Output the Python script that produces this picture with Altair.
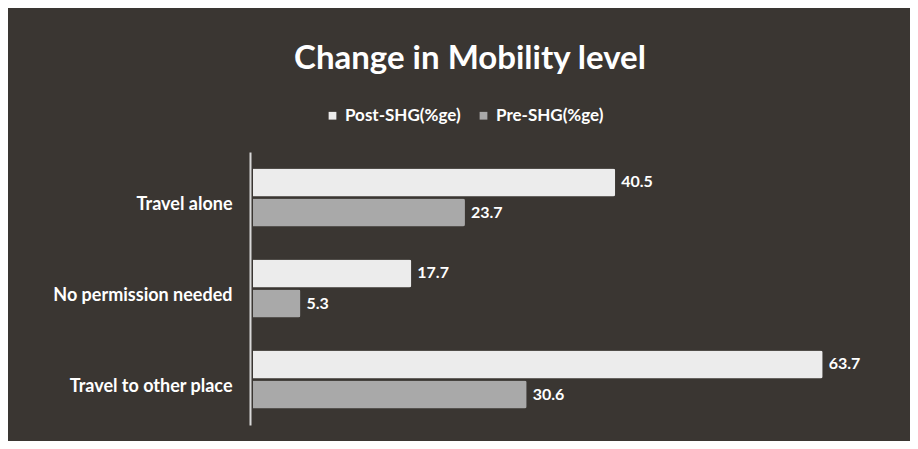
import altair as alt
import pandas as pd

categories = ["Travel alone", "No permission needed", "Travel to other place"]
series = ["Post-SHG(%ge)", "Pre-SHG(%ge)"]
post_values = [40.5, 17.7, 63.7]
pre_values = [23.7, 5.3, 30.6]

rows = []
for c, a, b in zip(categories, post_values, pre_values):
    rows.append({"cat": c, "series": series[0], "value": a})
    rows.append({"cat": c, "series": series[1], "value": b})
df = pd.DataFrame(rows)

FONT = "Lato"
BG = "#3a3632"

y_enc = alt.Y("cat:N", sort=categories, title=None,
              scale=alt.Scale(paddingInner=0.36, paddingOuter=0.18),
              axis=alt.Axis(labelColor="white", labelFont=FONT, labelFontSize=18,
                            labelFontWeight="bold", labelPadding=18, labelOffset=7, ticks=False,
                            domainColor="#d8d8d8", domainWidth=2, offset=3, grid=False))
yoff = alt.YOffset("series:N", sort=series, scale=alt.Scale(paddingInner=0.06))
x_enc = alt.X("value:Q", scale=alt.Scale(domain=[0, 70]), axis=None)

bars = alt.Chart(df).mark_bar(cornerRadiusEnd=2).encode(
    y=y_enc, yOffset=yoff, x=x_enc,
    color=alt.Color("series:N", sort=series,
                    scale=alt.Scale(domain=series, range=["#ececec", "#a9a9a9"]),
                    legend=alt.Legend(title=None, orient="none", direction="horizontal",
                                      legendX=71, legendY=-45, labelColor="white",
                                      labelFont=FONT, labelFontSize=17, labelFontWeight="bold",
                                      symbolType="square", symbolSize=60, columnPadding=14,
                                      symbolStrokeWidth=0)),
)

labels = alt.Chart(df).mark_text(align="left", baseline="middle", dx=6, color="white",
                                 font=FONT, fontSize=16, fontWeight="bold").encode(
    y=alt.Y("cat:N", sort=categories), yOffset=yoff, x=x_enc,
    text=alt.Text("value:Q", format=".1f"),
)

chart = (bars + labels).properties(
    width=626, height=273,
    autosize=alt.AutoSizeParams(type="none"),
    padding={"left": 245, "top": 144, "right": 31, "bottom": 16},
    background=BG,
    title=alt.TitleParams("Change in Mobility level", color="white", font=FONT,
                          fontSize=33, fontWeight="bold", anchor="middle", dx=-96, offset=31),
).configure_view(stroke=None)

chart.save("out.html", embed_options={"renderer": "svg", "actions": False})
